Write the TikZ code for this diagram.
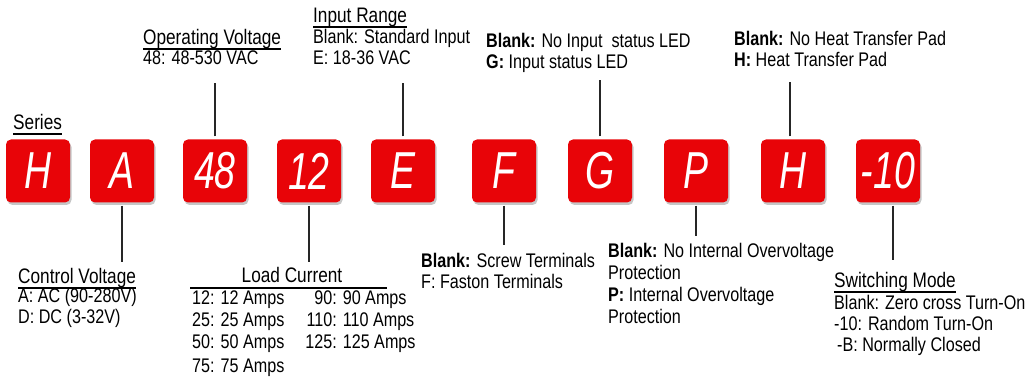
\documentclass[tikz,border=0pt]{standalone}
\usepackage{fontspec}
\setmainfont{Liberation Sans}[FakeStretch=0.82]
\newfontfamily\boxfont{Liberation Sans}[FakeStretch=0.72]
\usetikzlibrary{shadows}
\definecolor{boxred}{RGB}{232,4,8}
\tikzset{
  codebox/.style={fill=boxred, rounded corners=5pt, minimum width=64pt, minimum height=63pt,
    inner sep=0pt, text=white, font=\boxfont\itshape\fontsize{52}{52}\selectfont,
    drop shadow={shadow xshift=1.5pt, shadow yshift=-2.5pt, opacity=.45}},
  head/.style={anchor=base west, inner sep=0pt, font=\fontsize{21}{22}\selectfont},
  body/.style={anchor=base west, inner sep=0pt, align=left, font=\fontsize{19.7}{21}\selectfont},
  stem/.style={line width=1.6pt, black!85, shorten <=3pt},
  uline/.style={line width=1.5pt}
}

\begin{document}
\begin{tikzpicture}[x=1pt,y=-1pt]
\useasboundingbox (0,0) rectangle (1029,379);

% code boxes
\node[codebox] (bH) at (38,171) {H};
\node[codebox] (bA) at (122,171) {A};
\node[codebox] (b48) at (215,171) {48};
\node[codebox] (b12) at (309,171) {12};
\node[codebox] (bE) at (403,171) {E};
\node[codebox] (bF) at (504,171) {F};
\node[codebox] (bG) at (600,171) {G};
\node[codebox] (bP) at (696,171) {P};
\node[codebox] (bHt) at (793,171) {H};
\node[codebox] (b10) at (888,171) {-10};

% labels above (multi-line nodes sit on their last baseline)
\node[head] (ser) at (13,130) {Series};
\draw[uline] ([yshift=-4pt]ser.base west) -- ([yshift=-4pt]ser.base east);

\node[head] (opv) at (143,45) {Operating Voltage};
\draw[uline] ([yshift=-4pt]opv.base west) -- ([yshift=-4pt]opv.base east);
\node[body] (opvtxt) at (143,65) {48: 48-530 VAC};

\node[head] (inr) at (313,23) {Input Range};
\draw[uline] ([yshift=-4pt]inr.base west) -- ([yshift=-4pt]inr.base east);
\node[body] (inrtxt) at (313,65) {Blank: Standard Input\\E: 18-36 VAC};

\node[body] (led) at (486,69) {\textbf{Blank:} No Input~ status LED\\\textbf{G:} Input status LED};

\node[body] (heat) at (734,67) {\textbf{Blank:} No Heat Transfer Pad\\\textbf{H:} Heat Transfer Pad};

% labels below
\node[head] (ctl) at (18,284) {Control Voltage};
\draw[uline] ([yshift=-4pt]ctl.base west) -- ([yshift=-4pt]ctl.base east);
\node[body] (ctltxt) at (18,324) {A: AC (90-280V)\\D: DC (3-32V)};

\node[head, anchor=base] (lc) at (292,283) {Load Current};
\node[body, font=\fontsize{19.7}{22}\selectfont] (loadtab) at (192,305) {%
  \begin{tabular}[t]{@{}l@{\hspace{21pt}}c@{}}
  12: 12 Amps & 90: 90 Amps\\
  25: 25 Amps & 110: 110 Amps\\
  50: 50 Amps & 125: 125 Amps\\[2pt]
  75: 75 Amps &
  \end{tabular}};
\draw[uline] ([xshift=-2pt,yshift=-5pt]lc.base -| loadtab.west) -- ++(197,0);

\node[body] (screw) at (421,289) {\textbf{Blank:} Screw Terminals\\F: Faston Terminals};

\node[body, font=\fontsize{19.7}{22.3}\selectfont] (ovp) at (608,324)
  {\textbf{Blank:} No Internal Overvoltage\\Protection\\\textbf{P:} Internal Overvoltage\\Protection};

\node[head] (sw) at (834,288) {Switching Mode};
\draw[uline] ([yshift=-4pt]sw.base west) -- ([yshift=-4pt]sw.base east);
\node[body] (swtxt) at (834,352) {Blank: Zero cross Turn-On\\-10: Random Turn-On\\\hspace{3pt}-B: Normally Closed};

% stems
\coordinate (e48) at (0,83);
\coordinate (eE) at (0,83);
\coordinate (eG) at (0,80);
\coordinate (eHt) at (0,82);
\coordinate (eA) at (0,262);
\coordinate (e12) at (0,262);
\coordinate (eF) at (0,245);
\coordinate (eP) at (0,236);
\coordinate (e10) at (0,260);
\draw[stem] (b48.north) -- (b48.north |- e48);
\draw[stem] (bE.north) -- (bE.north |- eE);
\draw[stem] (bG.north) -- (bG.north |- eG);
\draw[stem] ([xshift=-3pt]bHt.north) -- ([xshift=-3pt]bHt.north |- eHt);
\draw[stem] (bA.south) -- (bA.south |- eA);
\draw[stem] (b12.south) -- (b12.south |- e12);
\draw[stem] (bF.south) -- (bF.south |- eF);
\draw[stem] (bP.south) -- (bP.south |- eP);
\draw[stem] ([xshift=5pt]b10.south) -- ([xshift=5pt]b10.south |- e10);
\end{tikzpicture}
\end{document}
